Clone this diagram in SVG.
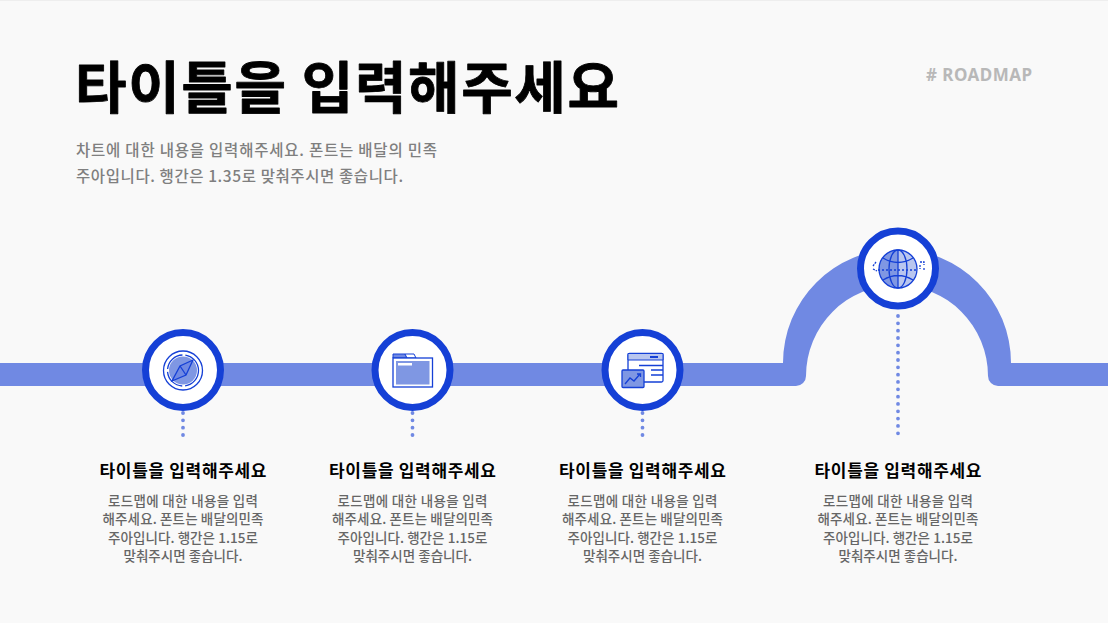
<svg xmlns="http://www.w3.org/2000/svg" width="1108" height="623" viewBox="0 0 1108 623">
<style>
text{font-family:"Noto Sans CJK KR","Noto Sans",sans-serif}
.t{font-size:56px;font-weight:700;fill:#000;stroke:#000;stroke-width:.8;stroke-linejoin:round}
.s{font-size:15.5px;font-weight:500;fill:#7f7f7f}
.h{font-size:17px;font-weight:700;fill:#000;text-anchor:middle}
.b{font-size:13.500px;font-weight:500;fill:#666;text-anchor:middle}
.ring{fill:#fff;stroke:#1540d6;stroke-width:7}
.dots{fill:none;stroke:#7089e3;stroke-width:3.800;stroke-linecap:round;stroke-dasharray:0 7.33}
.l{fill:none;stroke:#1540d6;stroke-width:1.3}
.a{fill:#7f97e3}
.c{fill:#b9c6ef}
</style>
<rect width="1108" height="623" fill="#f9f9f9"/>
<rect width="1108" height="1" fill="#eeeeee"/>
<g id="connectors">
<path d="M0 363H783A114 114 0 0 1 1011 363H1108V386H998A10 10 0 0 1 988 376A91 91 0 0 0 806 376A10 10 0 0 1 796 386H0Z" fill="#7089e3"/>
<path class="dots" d="M183 413V436"/>
<path class="dots" d="M412.500 413V436"/>
<path class="dots" d="M642.500 413V436"/>
<path class="dots" d="M898 316V436"/>
</g>
<g id="title">
<text class="t" x="75" y="108" textLength="544">타이틀을 입력해주세요</text>
<text class="s" x="76" y="156" textLength="361">차트에 대한 내용을 입력해주세요. 폰트는 배달의 민족</text>
<text class="s" x="76" y="182" textLength="327">주아입니다. 행간은 1.35로 맞춰주시면 좋습니다.</text>
<text x="926" y="81" font-size="17" font-weight="700" fill="#b8b8b8" textLength="106" style="font-family:'Noto Sans',sans-serif"># ROADMAP</text>
</g>
<g id="node-1">
<circle class="ring" cx="183" cy="370" r="37.500"/>
<circle cx="183" cy="370.500" r="14" class="a"/>
<circle class="l" cx="183" cy="370.500" r="19.500"/>
<circle class="l" cx="183" cy="370.500" r="15.500" stroke-dasharray="22 3"/>
<path d="M193 360L186 375L172 381L180 366Z" fill="#7089e3" stroke="#1540d6" stroke-width="1.300"/>
<path class="l" d="M180 366L186 375"/>
<text class="h" x="183" y="477" textLength="167">타이틀을 입력해주세요</text>
<text class="b" x="183" y="505.500" textLength="150">로드맵에 대한 내용을 입력</text>
<text class="b" x="183" y="524" textLength="161">해주세요. 폰트는 배달의민족</text>
<text class="b" x="183" y="542.500" textLength="150">주아입니다. 행간은 1.15로</text>
<text class="b" x="183" y="561" textLength="119">맞춰주시면 좋습니다.</text>
</g>
<g id="node-2">
<circle class="ring" cx="412.500" cy="370" r="37.500"/>
<path d="M393 358V354H405L407 358Z" fill="#7089e3" stroke="#1540d6" stroke-width="1"/>
<path d="M405 354H414L416 358H407Z" fill="#fff" stroke="#1540d6" stroke-width="1"/>
<rect x="393" y="358" width="39.500" height="29" fill="#fff" stroke="#1540d6" stroke-width="1.300"/>
<rect x="396" y="361" width="33.500" height="23.500" fill="#7f97e3"/>
<rect x="398" y="363" width="14" height="2.500" fill="#fff"/>
<text class="h" x="412.500" y="477" textLength="167">타이틀을 입력해주세요</text>
<text class="b" x="412.500" y="505.500" textLength="150">로드맵에 대한 내용을 입력</text>
<text class="b" x="412.500" y="524" textLength="161">해주세요. 폰트는 배달의민족</text>
<text class="b" x="412.500" y="542.500" textLength="150">주아입니다. 행간은 1.15로</text>
<text class="b" x="412.500" y="561" textLength="119">맞춰주시면 좋습니다.</text>
</g>
<g id="node-3">
<circle class="ring" cx="642.500" cy="370" r="37.500"/>
<rect x="628" y="353.500" width="35" height="28.500" rx="1.500" fill="#fff" stroke="#1540d6" stroke-width="1.300"/>
<path d="M628 353.500H663V360H628Z" fill="#b9c6ef" stroke="#1540d6" stroke-width="1"/>
<path d="M650 357H658" stroke="#1540d6" stroke-width="2"/>
<path class="l" d="M639 365.500H663M651 370H663M651 375H663"/>
<rect x="622" y="370" width="22" height="17.500" rx="1" fill="#7f97e3" stroke="#1540d6" stroke-width="1.300"/>
<path class="l" d="M625 384L630 378L634 381L640 374M637 374H640.500V377"/>
<text class="h" x="642.500" y="477" textLength="167">타이틀을 입력해주세요</text>
<text class="b" x="642.500" y="505.500" textLength="150">로드맵에 대한 내용을 입력</text>
<text class="b" x="642.500" y="524" textLength="161">해주세요. 폰트는 배달의민족</text>
<text class="b" x="642.500" y="542.500" textLength="150">주아입니다. 행간은 1.15로</text>
<text class="b" x="642.500" y="561" textLength="119">맞춰주시면 좋습니다.</text>
</g>
<g id="node-4">
<circle class="ring" cx="898" cy="268.500" r="37.500"/>
<circle cx="898" cy="269" r="19" class="c"/>
<path d="M898 250A19 19 0 0 0 885 283A40 40 0 0 0 898 288Z" class="a"/>
<circle class="l" cx="898" cy="269" r="19"/>
<ellipse class="l" cx="898" cy="269" rx="9" ry="19"/>
<path class="l" d="M898 250V288M883 258Q898 267 913 258M883 280Q898 271 913 280"/>
<path d="M878 270H918" fill="none" stroke="#1540d6" stroke-width="1.300" stroke-dasharray="2 2"/>
<path d="M876 262L873 266M873 269L877 271M920 262H924V265M920 265V269M924 268V271" fill="none" stroke="#1540d6" stroke-width="1.300" stroke-dasharray="2 1"/>
<text class="h" x="898" y="477" textLength="167">타이틀을 입력해주세요</text>
<text class="b" x="898" y="505.500" textLength="150">로드맵에 대한 내용을 입력</text>
<text class="b" x="898" y="524" textLength="161">해주세요. 폰트는 배달의민족</text>
<text class="b" x="898" y="542.500" textLength="150">주아입니다. 행간은 1.15로</text>
<text class="b" x="898" y="561" textLength="119">맞춰주시면 좋습니다.</text>
</g>
</svg>
